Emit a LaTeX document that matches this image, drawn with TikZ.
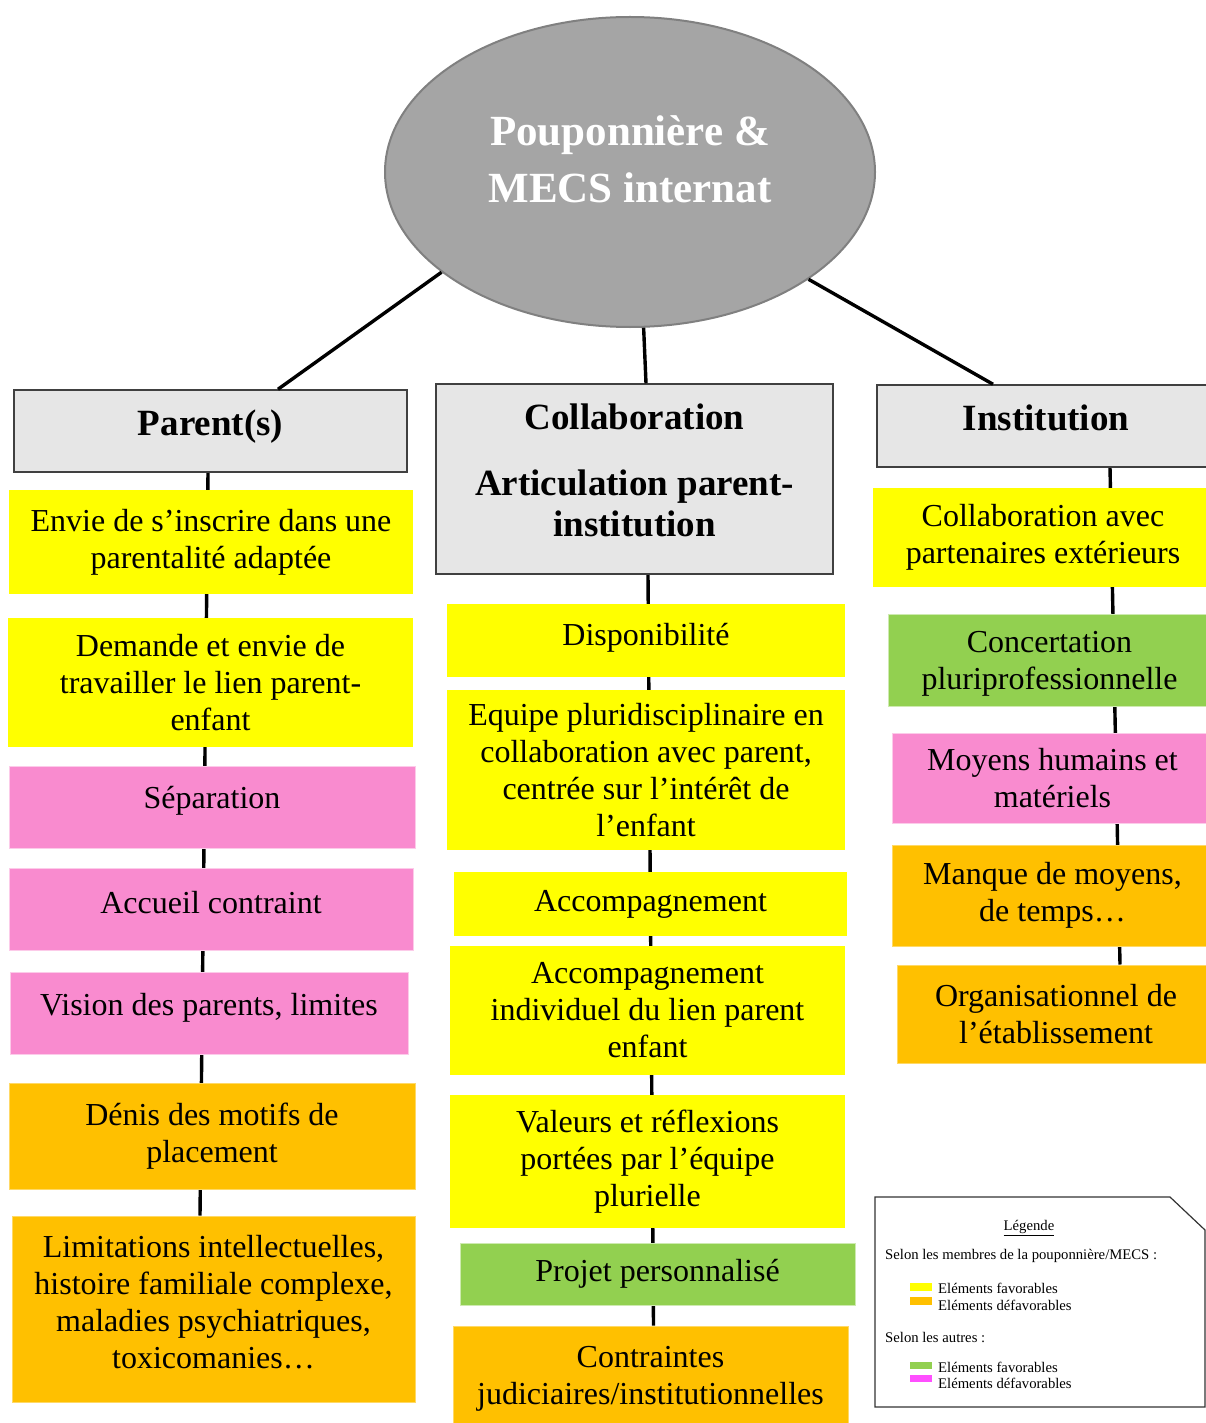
\documentclass[tikz,border=0pt]{standalone}
\usepackage{fontspec}
\setmainfont{Liberation Serif}
\usetikzlibrary{shapes.geometric,backgrounds}

\definecolor{favyellow}{HTML}{FFFF00}
\definecolor{defavorange}{HTML}{FFC000}
\definecolor{autregreen}{HTML}{92D050}
\definecolor{autrepink}{HTML}{F98BCF}
\definecolor{legpink}{HTML}{FF4FFF}
\definecolor{headgray}{HTML}{E6E6E6}
\definecolor{ellgray}{HTML}{A5A5A5}

\begin{document}
\begin{tikzpicture}[x=1pt, y=-1pt,
  head/.style={draw=black!75, line width=1.5pt, fill=headgray, align=center, inner sep=0pt, font=\fontsize{37}{41}\selectfont\bfseries},
  item/.style={align=center, inner sep=0pt, line width=1pt, font=\fontsize{32}{37}\selectfont},
  fav/.style={item, fill=favyellow},
  defav/.style={item, fill=defavorange, draw=defavorange!60!white},
  ofav/.style={item, fill=autregreen, draw=autregreen!45!white},
  odefav/.style={item, fill=autrepink, draw=autrepink!45!white},
  link/.style={line width=3.4pt},
  leg/.style={anchor=west, inner sep=0pt, font=\fontsize{14.7}{17}\selectfont},
  swatch/.style={inner sep=0pt, minimum width=22pt}
]
  \useasboundingbox (0,0) rectangle (1206,1423);

  % centre
  \node[ellipse, draw=black!50, line width=2pt, fill=ellgray, minimum width=490pt, minimum height=310pt,
        inner sep=0pt, text=white, align=center, text depth=26pt, font=\fontsize{43}{57}\selectfont\bfseries]
        (ell) at (630,172) {Pouponnière \&\\MECS internat};

  % headers
  \node[head, minimum width=393pt, minimum height=82pt, text depth=16pt]  (hpar) at (210.5,431) {Parent(s)};
  \node[head, minimum width=397pt, minimum height=190pt, text depth=18pt] (hcol) at (634.5,479) {Collaboration\\[25pt]Articulation parent-\\institution};
  \node[head, minimum width=338pt, minimum height=82pt, text depth=16pt]  (hins) at (1046,426)  {Institution};

  % parent(s)
  \node[fav,    minimum width=404pt, minimum height=104pt] (p1) at (211,542)    {Envie de s’inscrire dans une\\parentalité adaptée};
  \node[fav,    minimum width=405pt, minimum height=129pt] (p2) at (210.5,682.5) {Demande et envie de\\travailler le lien parent-\\enfant};
  \node[odefav, minimum width=406pt, minimum height=82pt, text depth=19pt]  (p3) at (212,807)  {Séparation};
  \node[odefav, minimum width=404pt, minimum height=82pt, text depth=14pt]  (p4) at (211,909)  {Accueil contraint};
  \node[odefav, minimum width=398pt, minimum height=82pt, text depth=17pt]  (p5) at (209,1013) {Vision des parents, limites};
  \node[defav,  minimum width=406pt, minimum height=106pt] (p6) at (212,1136)   {Dénis des motifs de\\placement};
  \node[defav,  minimum width=403pt, minimum height=186pt, text depth=14pt] (p7) at (213.5,1309) {Limitations intellectuelles,\\histoire familiale complexe,\\maladies psychiatriques,\\toxicomanies…};

  % collaboration
  \node[fav,   minimum width=398pt, minimum height=73pt, text depth=13pt] (c1) at (646,640.5) {Disponibilité};
  \node[fav,   minimum width=398pt, minimum height=160pt] (c2) at (646,770)      {Equipe pluridisciplinaire en\\collaboration avec parent,\\centrée sur l’intérêt de\\l’enfant};
  \node[fav,   minimum width=393pt, minimum height=64pt]  (c3) at (650.5,904)    {Accompagnement};
  \node[fav,   minimum width=395pt, minimum height=129pt] (c4) at (647.5,1010.5) {Accompagnement\\individuel du lien parent\\enfant};
  \node[fav,   minimum width=395pt, minimum height=133pt] (c5) at (647.5,1161.5) {Valeurs et réflexions\\portées par l’équipe\\plurielle};
  \node[ofav,  minimum width=395pt, minimum height=62pt]  (c6) at (657.5,1274)   {Projet personnalisé};
  \node[defav, minimum width=395pt, minimum height=105pt] (c7) at (650.5,1378.5) {Contraintes\\judiciaires/institutionnelles};

  % institution
  \node[fav,    minimum width=340pt, minimum height=99pt]  (r1) at (1043,537.5)  {Collaboration avec\\partenaires extérieurs};
  \node[ofav,   minimum width=323pt, minimum height=92pt, text depth=0pt] (r2) at (1049.5,660) {Concertation\\pluriprofessionnelle};
  \node[odefav, minimum width=321pt, minimum height=90pt]  (r3) at (1052.5,778)  {Moyens humains et\\matériels};
  \node[defav,  minimum width=321pt, minimum height=101pt] (r4) at (1052.5,895.5) {Manque de moyens,\\de temps…};
  \node[defav,  minimum width=318pt, minimum height=98pt]  (r5) at (1056,1014)   {Organisationnel de\\l’établissement};

  % links
  \draw[link] (ell.208.7) -- ([xshift=67.5pt]hpar.north);
  \draw[link] (ell.275.9) -- ([xshift=11.5pt]hcol.north);
  \draw[link] (ell.329.2) -- ([xshift=-53pt]hins.north);
  \begin{scope}[on background layer]
    \draw[link] ([xshift=-2.5pt]hpar.south) -- ([xshift=-13.5pt]p7.north);
    \draw[link] ([xshift=13.5pt]hcol.south) -- ([xshift=3pt]c7.north);
    \draw[link] ([xshift=64pt]hins.south)   -- ([xshift=64pt]r5.north);
  \end{scope}

  % legend
  \draw[draw=black!80, line width=1.2pt, fill=white] (875,1197) -- (1170,1197) -- (1205,1230) -- (1205,1407) -- (875,1407) -- cycle;
  \node[inner sep=0pt, font=\fontsize{14.7}{17}\selectfont] (legt) at (1029,1228) {\underline{Légende}};
  \node[leg] (leg1) at (885,1256) {Selon les membres de la pouponnière/MECS :};
  \node[swatch, fill=favyellow, minimum height=8pt]   (sw1) at (921,1287) {};
  \node[leg] (leg1a) at (938,1288) {Eléments favorables};
  \node[swatch, fill=defavorange, minimum height=8pt] (sw2) at (921,1301) {};
  \node[leg] (leg1b) at (938,1305) {Eléments défavorables};
  \node[leg] (leg2) at (885,1337) {Selon les autres :};
  \node[swatch, fill=autregreen, minimum height=7pt]  (sw3) at (921,1365.5) {};
  \node[leg] (leg2a) at (938,1367) {Eléments favorables};
  \node[swatch, fill=legpink, minimum height=7pt]     (sw4) at (921,1378) {};
  \node[leg] (leg2b) at (938,1383) {Eléments défavorables};
\end{tikzpicture}
\end{document}
